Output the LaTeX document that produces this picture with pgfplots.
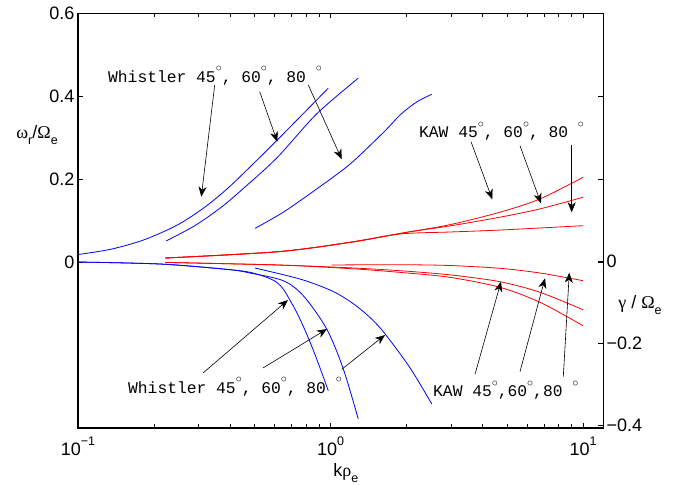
\documentclass[border=0pt]{standalone}
\usepackage{pgfplots}
\pgfplotsset{compat=1.18}
\usepackage{fontspec}
\setmainfont{Liberation Sans}
\newfontfamily\mono{Liberation Mono}
\newfontfamily\grk{Liberation Serif}
\usetikzlibrary{arrows.meta}
\newcommand\subs[1]{\raisebox{-0.35em}{\fontsize{12.5}{12.5}\selectfont #1}}
\newcommand\sups[1]{\raisebox{0.55em}{\fontsize{12.5}{12.5}\selectfont #1}}
\newcommand\dg{\raisebox{0.62em}{\fontsize{12}{12}\selectfont$\circ$}}
\tikzset{arr/.style={-{Stealth[length=10pt,width=8pt,inset=3pt]}, line width=0.6pt, black}}
\begin{document}
\begin{tikzpicture}[font=\fontsize{18}{21}\selectfont]
\useasboundingbox (-78pt,-57pt) rectangle (611pt,428pt);
\begin{axis}[
 at={(0pt,0pt)}, anchor=south west,
 width=525pt, height=415pt, scale only axis,
 xmode=log, xmin=0.1, xmax=12,
 ymin=-0.4, ymax=0.6,
 xtick={0.1,1,10}, xticklabels={10\sups{−1},10\sups{0},10\sups{1}},
 minor xtick={0.2,0.3,0.4,0.5,0.6,0.7,0.8,0.9,2,3,4,5,6,7,8,9},
 ytick={0,0.2,0.4,0.6}, yticklabels={0,0.2,0.4,0.6},
 tick align=inside,
 major tick length=5pt, minor tick length=4pt,
 axis line style={line width=0.9pt},
 every tick/.style={black, line width=0.6pt},
 clip mode=individual,
 xticklabel style={yshift=-5pt},
]
% Whistler omega_r
\addplot[blue, line width=0.8pt, smooth, tension=0.5] coordinates {(0.1,0.018) (0.1355,0.031) (0.1837,0.054) (0.2489,0.090) (0.3176,0.132) (0.3926,0.178) (0.4856,0.232) (0.6156,0.294) (0.98,0.419)};
\addplot[blue, line width=0.8pt, smooth, tension=0.5] coordinates {(0.2237,0.051) (0.290,0.0875) (0.3694,0.132) (0.4572,0.180) (0.6156,0.252) (0.8817,0.357) (1.288,0.443)};
\addplot[blue, line width=0.8pt, smooth, tension=0.5] coordinates {(0.5023,0.081) (0.650,0.120) (0.8817,0.176) (1.195,0.236) (1.619,0.312) (1.9,0.356) (2.2,0.386) (2.517,0.404)};
% KAW omega_r
\addplot[red, line width=0.8pt, smooth, tension=0.5] coordinates {(0.2216,0.0096) (0.619,0.0248) (1.195,0.0474) (2.004,0.0716) (2.974,0.090) (4.69,0.120) (6.756,0.152) (10,0.204)};
\addplot[red, line width=0.8pt, smooth, tension=0.5] coordinates {(0.2216,0.0096) (0.619,0.0248) (1.195,0.0474) (2.004,0.0716) (2.974,0.087) (4.69,0.108) (6.756,0.128) (10,0.156)};
\addplot[red, line width=0.8pt, smooth, tension=0.5] coordinates {(0.2216,0.0096) (0.619,0.0248) (1.195,0.0474) (1.884,0.0675) (2.974,0.0723) (4.69,0.077) (10,0.0875)};
% KAW gamma
\addplot[red, line width=0.8pt, smooth, tension=0.5] coordinates {(0.2216,-0.001) (0.619,-0.0072) (1.195,-0.014) (1.884,-0.021) (2.974,-0.031) (4.69,-0.0475) (6.756,-0.073) (10,-0.115)};
\addplot[red, line width=0.8pt, smooth, tension=0.5] coordinates {(0.2216,-0.001) (0.619,-0.0072) (1.195,-0.016) (1.884,-0.025) (2.974,-0.037) (4.69,-0.061) (6.756,-0.097) (10,-0.1535)};
\addplot[red, line width=0.8pt, smooth, tension=0.5] coordinates {(1.011,-0.0072) (1.884,-0.0065) (2.974,-0.0085) (4.69,-0.0152) (6.756,-0.0265) (10,-0.045)};
% Whistler gamma
\addplot[blue, line width=0.8pt, smooth, tension=0.5] coordinates {(0.1,0) (0.2138,-0.005) (0.3926,-0.018) (0.4799,-0.0248) (0.5588,-0.0369) (0.6121,-0.0489) (0.650,-0.065) (0.6806,-0.085) (0.7346,-0.1212) (0.8049,-0.1735) (0.8817,-0.2337) (0.980,-0.3101)};
\addplot[blue, line width=0.8pt, smooth, tension=0.5] coordinates {(0.1,0) (0.2138,-0.005) (0.3926,-0.018) (0.4799,-0.0265) (0.650,-0.0451) (0.7805,-0.0812) (0.966,-0.1614) (1.124,-0.2578) (1.288,-0.3783)};
\addplot[blue, line width=0.8pt, smooth, tension=0.5] coordinates {(0.5023,-0.0145) (0.757,-0.041) (1.0,-0.068) (1.195,-0.095) (1.4,-0.128) (1.619,-0.168) (2.065,-0.255) (2.517,-0.342)};
% thicker left/bottom lines
\draw[line width=1.6pt] (rel axis cs:0,1) -- (rel axis cs:0,0) -- (rel axis cs:1,0);
% labels
\node at (rel axis cs:-0.078,0.706) {{\grk ω}\subs{r}/{\grk Ω}\subs{e}};
\node at (rel axis cs:1.0705,0.296) {{\grk γ} / {\grk Ω}\subs{e}};
\node at (rel axis cs:0.51,-0.108) {k{\grk ρ}\subs{e}};
% annotations
\node[anchor=base west, inner sep=0pt, font=\mono\fontsize{16.3}{19}\selectfont] at (rel axis cs:0.0571,0.8337) {Whistler 45\dg, 60\dg, 80 \dg};
\node[anchor=base west, inner sep=0pt, font=\mono\fontsize{16.3}{19}\selectfont] at (rel axis cs:0.6495,0.6988) {KAW 45\dg, 60\dg, 80 \dg};
\node[anchor=base west, inner sep=0pt, font=\mono\fontsize{16.3}{19}\selectfont] at (rel axis cs:0.0952,0.0843) {Whistler 45\dg, 60\dg, 80 \dg};
\node[anchor=base west, inner sep=0pt, font=\mono\fontsize{16.3}{19}\selectfont] at (rel axis cs:0.6762,0.0747) {KAW 45\dg,60\dg,80 \dg};
\draw[arr] (rel axis cs:0.2604,0.8265) -- (rel axis cs:0.2349,0.5573);
\draw[arr] (rel axis cs:0.3461,0.8104) -- (rel axis cs:0.3796,0.6899);
\draw[arr] (rel axis cs:0.4387,0.8265) -- (rel axis cs:0.5023,0.6475);
\draw[arr] (rel axis cs:0.7486,0.6899) -- (rel axis cs:0.7891,0.5511);
\draw[arr] (rel axis cs:0.8419,0.6802) -- (rel axis cs:0.8819,0.5414);
\draw[arr] (rel axis cs:0.9404,0.6819) -- (rel axis cs:0.9404,0.5198);
\draw[arr] (rel axis cs:0.2381,0.1325) -- (rel axis cs:0.4,0.3084);
\draw[arr] (rel axis cs:0.3524,0.1446) -- (rel axis cs:0.4743,0.2386);
\draw[arr] (rel axis cs:0.5023,0.1414) -- (rel axis cs:0.5848,0.2241);
\draw[arr] (rel axis cs:0.7562,0.1294) -- (rel axis cs:0.8057,0.3525);
\draw[arr] (rel axis cs:0.8419,0.1357) -- (rel axis cs:0.8895,0.3607);
\draw[arr] (rel axis cs:0.9244,0.1236) -- (rel axis cs:0.9358,0.3742);
\end{axis}
\begin{axis}[
 at={(0pt,0pt)}, anchor=south west,
 width=525pt, height=415pt, scale only axis,
 xmode=log, xmin=0.1, xmax=12,
 ymin=-0.407, ymax=0.605,
 axis y line*=right, axis x line=none,
 ytick={-0.4,-0.2,0}, yticklabels={−0.4,−0.2,0},
 tick align=inside, major tick length=5pt,
 every tick/.style={black, line width=0.6pt},
 axis line style={line width=0.9pt},
]
\addplot[draw=none] coordinates {(1,0)};
\end{axis}
\end{tikzpicture}
\end{document}
